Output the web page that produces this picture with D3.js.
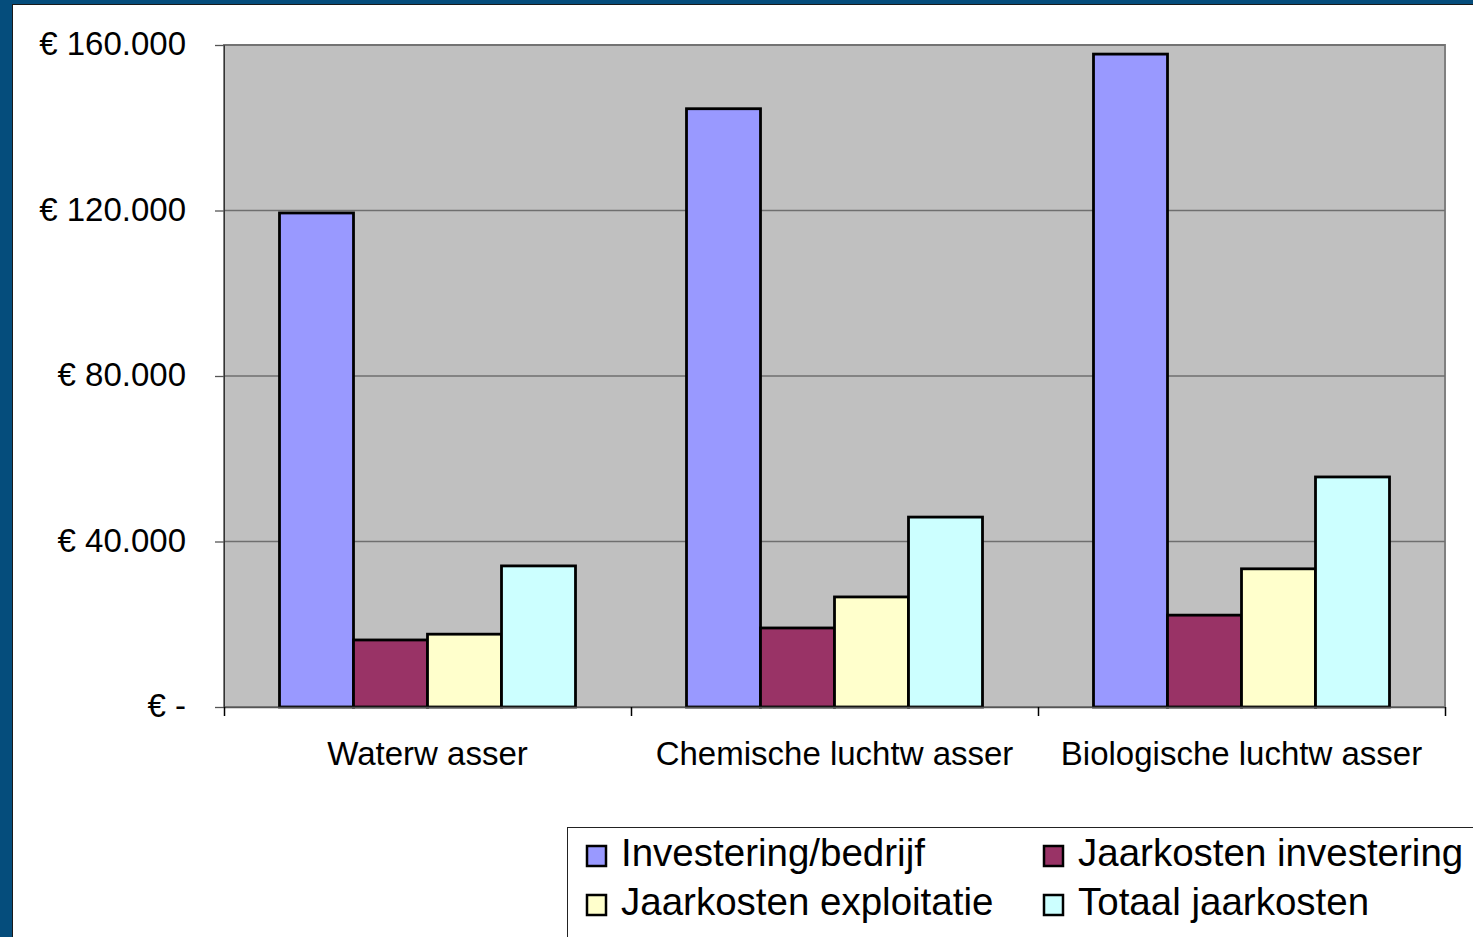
<!DOCTYPE html>
<html>
<head>
<meta charset="utf-8">
<script src="https://cdn.jsdelivr.net/npm/d3@7"></script>
<style>
  body { margin: 0; background: #fff; }
  svg { display: block; font-family: "Liberation Sans", Arial, sans-serif; }
</style>
</head>
<body>
<svg id="chart"></svg>
<script>
var categories = ["Waterw asser", "Chemische luchtw asser", "Biologische luchtw asser"]
var series = ["Investering/bedrijf", "Jaarkosten investering", "Jaarkosten exploitatie", "Totaal jaarkosten"]
var investering = [119400, 144600, 157800]
var jkInvestering = [16200, 19100, 22200]
var jkExploitatie = [17600, 26600, 33400]
var totaal = [34100, 45900, 55600]
var yTicks = [0, 40000, 80000, 120000, 160000]
var yTickLabels = ["€ -", "€ 40.000", "€ 80.000", "€ 120.000", "€ 160.000"]
var colors = ["#9999ff", "#993366", "#ffffcc", "#ccffff"]

var values = [investering, jkInvestering, jkExploitatie, totaal]

var W = 1473, H = 937
var plot = {left: 224, top: 45, right: 1445, bottom: 707}

var svg = d3.select("#chart").attr("width", W).attr("height", H)

// frame of the slide
svg.append("rect").attr("x", 0).attr("y", 0).attr("width", W).attr("height", H).attr("fill", "#ffffff")
svg.append("rect").attr("x", 0).attr("y", 0).attr("width", 12).attr("height", H).attr("fill", "#054d7c")
svg.append("rect").attr("x", 0).attr("y", 0).attr("width", W).attr("height", 4).attr("fill", "#054d7c")
svg.append("line").attr("x1", 12.5).attr("x2", 12.5).attr("y1", 4).attr("y2", H).attr("stroke", "#1a1a1a").attr("stroke-width", 1)
svg.append("line").attr("x1", 12).attr("x2", W).attr("y1", 4.5).attr("y2", 4.5).attr("stroke", "#1a1a1a").attr("stroke-width", 1)

var y = d3.scaleLinear().domain([0, 160000]).range([plot.bottom, plot.top])
var x0 = d3.scaleBand().domain(categories).range([plot.left, plot.right]).padding(0)
var x1 = d3.scaleBand().domain(series).range([0, x0.bandwidth()]).paddingInner(0).paddingOuter(0.75)

// plot area
svg.append("rect")
  .attr("x", plot.left).attr("y", plot.top)
  .attr("width", plot.right - plot.left).attr("height", plot.bottom - plot.top)
  .attr("fill", "#c0c0c0")
  .attr("stroke", "#808080").attr("stroke-width", 2)

// gridlines
svg.append("g").selectAll("line")
  .data(yTicks.filter(function (d) { return d > 0 }))
  .enter().append("line")
  .attr("x1", plot.left).attr("x2", plot.right)
  .attr("y1", function (d) { return y(d) }).attr("y2", function (d) { return y(d) })
  .attr("stroke", "#6f6f6f").attr("stroke-width", 1.3)

// bars
var groups = svg.append("g").selectAll("g")
  .data(categories)
  .enter().append("g")
  .attr("transform", function (d) { return "translate(" + x0(d) + ",0)" })

groups.selectAll("rect")
  .data(function (c, ci) { return series.map(function (s, si) { return {s: s, i: si, v: values[si][ci]} }) })
  .enter().append("rect")
  .attr("x", function (d) { return x1(d.s) })
  .attr("y", function (d) { return y(d.v) })
  .attr("width", x1.bandwidth())
  .attr("height", function (d) { return y(0) - y(d.v) })
  .attr("fill", function (d) { return colors[d.i] })
  .attr("stroke", "#000").attr("stroke-width", 2.8)

// y axis
var yAxis = d3.axisLeft(y).tickValues(yTicks).tickSize(9).tickPadding(0)
  .tickFormat(function (d, i) { return yTickLabels[i] })
var gy = svg.append("g").attr("transform", "translate(" + plot.left + ",0)").call(yAxis)
gy.select(".domain").attr("stroke", "#333").attr("stroke-width", 1)
gy.selectAll(".tick line").attr("stroke", "#555").attr("stroke-width", 1.3)
gy.selectAll(".tick text")
  .attr("x", -38).attr("dy", "0.3em")
  .attr("fill", "#000").style("font-size", "33px")
  .style("font-family", "'Liberation Sans', Arial, sans-serif")

// x axis
var xAxis = d3.axisBottom(x0).tickSize(0).tickPadding(0)
var gx = svg.append("g").attr("transform", "translate(0," + plot.bottom + ")").call(xAxis)
gx.select(".domain").attr("stroke", "#555").attr("stroke-width", 1.5)
gx.selectAll(".tick text")
  .attr("y", 58).attr("dy", 0)
  .attr("fill", "#000").style("font-size", "33px")
  .style("font-family", "'Liberation Sans', Arial, sans-serif")
gx.append("g").selectAll("line")
  .data(categories.map(function (c) { return x0(c) }).concat([plot.right]))
  .enter().append("line")
  .attr("x1", function (d) { return Math.round(d) + 0.5 }).attr("x2", function (d) { return Math.round(d) + 0.5 })
  .attr("y1", 0).attr("y2", 9)
  .attr("stroke", "#000").attr("stroke-width", 1.5)

// legend
var legend = svg.append("g")
legend.append("rect")
  .attr("x", 567.5).attr("y", 827.5).attr("width", 940).attr("height", 140)
  .attr("fill", "#fff").attr("stroke", "#222").attr("stroke-width", 1)

var legX = [587, 1044], legY = [866, 915]
var items = legend.selectAll("g.item")
  .data(series)
  .enter().append("g")
  .attr("class", "item")
  .attr("transform", function (d, i) { return "translate(" + legX[i % 2] + "," + legY[Math.floor(i / 2)] + ")" })
items.append("rect")
  .attr("x", 0).attr("y", -20).attr("width", 19).attr("height", 20)
  .attr("fill", function (d, i) { return colors[i] })
  .attr("stroke", "#000").attr("stroke-width", 2.5)
items.append("text")
  .attr("x", 34).attr("y", 0)
  .style("font-size", "38.5px")
  .attr("fill", "#000")
  .text(function (d) { return d })
</script>
</body>
</html>
